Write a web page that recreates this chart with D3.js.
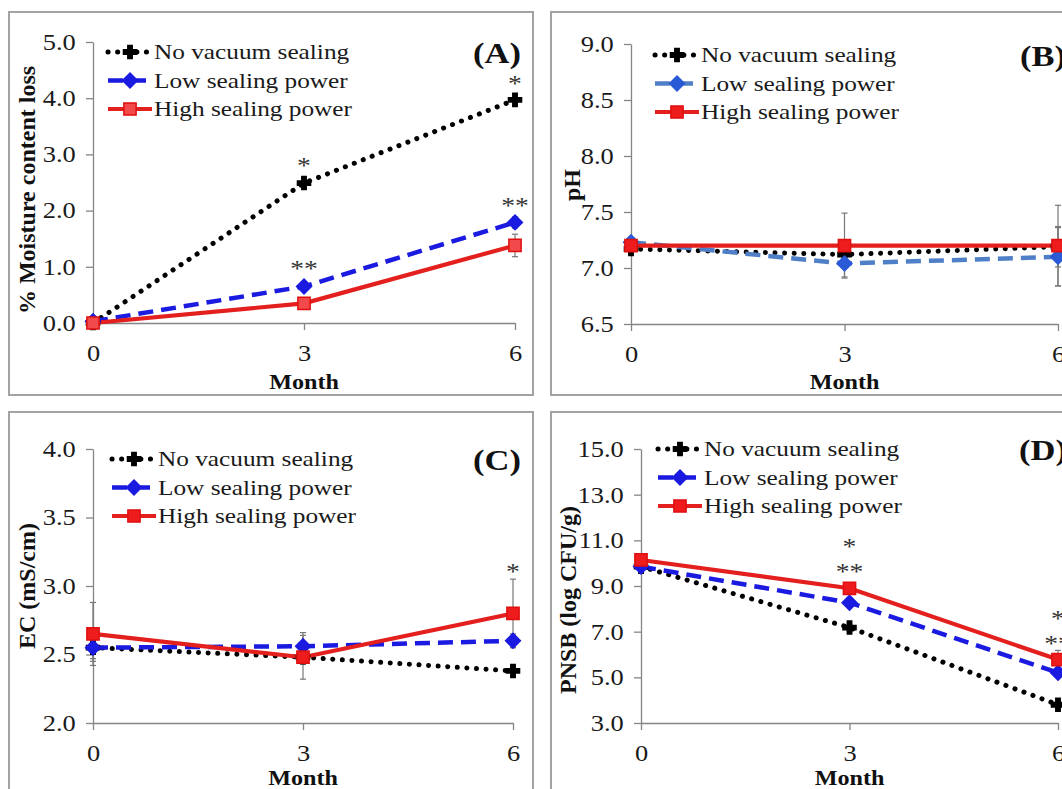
<!DOCTYPE html>
<html>
<head>
<meta charset="utf-8">
<script src="https://cdn.jsdelivr.net/npm/d3@7"></script>
<style>
body { margin: 0; background: #fff; }
svg { display: block; font-family: "Liberation Serif", "Times New Roman", serif; }
</style>
</head>
<body>
<svg id="fig" width="1062" height="789"></svg>
<script>
var months = [0, 3, 6]
var seriesNames = ["No vacuum sealing", "Low sealing power", "High sealing power"]

// (A) % moisture content loss
var moistTicks = [0, 1, 2, 3, 4, 5]
var moistNo = [0.00, 2.49, 3.97]
var moistLow = [0.03, 0.65, 1.79]
var moistHigh = [0.00, 0.35, 1.38]
var moistErrNo = [0.05, 0.08, 0.10]
var moistErrLow = [0.05, 0.06, 0.10]
var moistErrHigh = [0.03, 0.05, 0.20]
var moistStars = [[3, 2.86, "*"], [6, 4.32, "*"], [3, 1.03, "**"], [6, 2.15, "**"]]

// (B) pH
var phTicks = [6.5, 7.0, 7.5, 8.0, 8.5, 9.0]
var phNo = [7.17, 7.12, 7.19]
var phLow = [7.23, 7.04, 7.10]
var phHigh = [7.20, 7.20, 7.20]
var phErrNo = [0.04, 0.03, 0.18]
var phErrLow = [0.03, 0.12, 0.26]
var phErrHigh = [0.03, 0.29, 0.36]
var phStars = []

// (C) EC
var ecTicks = [2.0, 2.5, 3.0, 3.5, 4.0]
var ecNo = [2.55, 2.48, 2.38]
var ecLow = [2.55, 2.56, 2.60]
var ecHigh = [2.65, 2.48, 2.80]
var ecErrNo = [0.08, 0.05, 0.03]
var ecErrLow = [0.10, 0.10, 0.05]
var ecErrHigh = [0.23, 0.16, 0.25]
var ecStars = [[6, 3.13, "*"]]

// (D) PNSB
var pnsbTicks = [3, 5, 7, 9, 11, 13, 15]
var pnsbNo = [9.85, 7.18, 3.80]
var pnsbLow = [9.85, 8.27, 5.20]
var pnsbHigh = [10.14, 8.90, 5.78]
var pnsbErrNo = [0.10, 0.15, 0.15]
var pnsbErrLow = [0.10, 0.20, 0.20]
var pnsbErrHigh = [0.10, 0.15, 0.40]
var pnsbStars = [[3, 10.88, "*"], [3, 9.79, "**"], [6, 7.73, "*"], [6, 6.64, "**"]]

var SX = 1.15	// the figure is a bit wider than tall
var svg = d3.select("#fig")

var panels = [
	{ tag: "(A)", yTitle: "% Moisture content loss", ticks: moistTicks,
	  vals: [moistNo, moistLow, moistHigh], errs: [moistErrNo, moistErrLow, moistErrHigh], stars: moistStars,
	  frame: [9, 12, 524, 383], xr: [93, 515], yr: [323, 42], leg: [108, 52], tagPos: [473, 52],
	  titlePos: [27, 190], monthY: 382, lowLine: "#1a1ae0", lowMark: "#1a1ae0", highFill: "#f24a4a" },
	{ tag: "(B)", yTitle: "pH", ticks: phTicks,
	  vals: [phNo, phLow, phHigh], errs: [phErrNo, phErrLow, phErrHigh], stars: phStars,
	  frame: [551, 12, 540, 383], xr: [631, 1058], yr: [324, 44], leg: [655, 55], tagPos: [1020, 55],
	  titlePos: [572, 185], monthY: 382, lowLine: "#4f7fc6", lowMark: "#2a5ad6", highFill: "#ee1c1c" },
	{ tag: "(C)", yTitle: "EC (mS/cm)", ticks: ecTicks,
	  vals: [ecNo, ecLow, ecHigh], errs: [ecErrNo, ecErrLow, ecErrHigh], stars: ecStars,
	  frame: [9, 412, 524, 400], xr: [93, 513], yr: [723, 449], leg: [112, 459], tagPos: [473, 459],
	  titlePos: [27, 586], monthY: 778, lowLine: "#1a1ae0", lowMark: "#1a1ae0", highFill: "#ee1c1c" },
	{ tag: "(D)", yTitle: "PNSB (log CFU/g)", ticks: pnsbTicks,
	  vals: [pnsbNo, pnsbLow, pnsbHigh], errs: [pnsbErrNo, pnsbErrLow, pnsbErrHigh], stars: pnsbStars,
	  frame: [551, 412, 540, 400], xr: [641, 1058], yr: [723, 449], leg: [658, 449], tagPos: [1019, 449],
	  titlePos: [568, 600], monthY: 778, lowLine: "#1a1ae0", lowMark: "#1a1ae0", highFill: "#ee1c1c" }
]

function place(sel, x, y) {
	return sel.attr("transform", "translate(" + x + "," + y + ") scale(" + SX + ",1)")
}

function lineStyle(p, i) {
	if (i == 0) return { stroke: "#000", width: 5, dash: "0.1 9.5", cap: "round" }
	if (i == 1) return { stroke: p.lowLine, width: 4.5, dash: "15 8", cap: "butt" }
	return { stroke: "#e3201e", width: 4.2, dash: null, cap: "butt" }
}

function marker(p, i) {
	if (i == 0) return { path: d3.symbol(d3.symbolCross, 95)(), fill: "#000", stroke: "#000" }
	if (i == 1) return { path: d3.symbol(d3.symbolDiamond2, 140)(), fill: p.lowMark, stroke: p.lowMark }
	return { path: d3.symbol(d3.symbolSquare, 150)(), fill: p.highFill, stroke: "#e01010" }
}

function drawPanel(p) {
	var g = svg.append("g")

	g.append("rect")
		.attr("x", p.frame[0]).attr("y", p.frame[1])
		.attr("width", p.frame[2]).attr("height", p.frame[3])
		.attr("fill", "#fff").attr("stroke", "#a3a3a3").attr("stroke-width", 2)

	var x = d3.scaleLinear().domain([0, 6]).range(p.xr)
	var y = d3.scaleLinear().domain(d3.extent(p.ticks)).range(p.yr)

	var yAxis = g.append("g")
		.attr("transform", "translate(" + p.xr[0] + ",0)")
		.call(d3.axisLeft(y).tickValues(p.ticks).tickFormat(d3.format(".1f"))
			.tickSize(7).tickSizeOuter(0).tickPadding(8))
	var xAxis = g.append("g")
		.attr("transform", "translate(0," + p.yr[0] + ")")
		.call(d3.axisBottom(x).tickValues(months).tickFormat(d3.format("d"))
			.tickSize(7).tickSizeOuter(0).tickPadding(15))

	;[yAxis, xAxis].forEach(function(a) {
		a.attr("font-family", null).attr("font-size", null)
		a.selectAll("path, line").attr("stroke", "#858585").attr("stroke-width", 1.3)
		a.selectAll("text").attr("font-size", 23).attr("fill", "#1a1a1a")
			.attr("transform", "scale(" + SX + ",1)")
	})

	// error bars
	p.vals.forEach(function(vals, i) {
		vals.forEach(function(v, j) {
			var e = p.errs[i][j]
			var cx = x(months[j])
			var eg = g.append("g").attr("stroke", "#777").attr("stroke-width", 1.2)
			eg.append("line").attr("x1", cx).attr("x2", cx).attr("y1", y(v - e)).attr("y2", y(v + e))
			eg.append("line").attr("x1", cx - 3).attr("x2", cx + 3).attr("y1", y(v - e)).attr("y2", y(v - e))
			eg.append("line").attr("x1", cx - 3).attr("x2", cx + 3).attr("y1", y(v + e)).attr("y2", y(v + e))
		})
	})

	var line = d3.line()
		.x(function(d, j) { return x(months[j]) })
		.y(function(d) { return y(d) })

	p.vals.forEach(function(vals, i) {
		var s = lineStyle(p, i)
		g.append("path")
			.attr("d", line(vals))
			.attr("fill", "none")
			.attr("stroke", s.stroke)
			.attr("stroke-width", s.width)
			.attr("stroke-dasharray", s.dash)
			.attr("stroke-linecap", s.cap)
	})

	p.vals.forEach(function(vals, i) {
		var m = marker(p, i)
		g.selectAll(null).data(vals).enter()
			.append("path")
			.attr("d", m.path)
			.attr("transform", function(d, j) { return "translate(" + x(months[j]) + "," + y(d) + ")" })
			.attr("fill", m.fill)
			.attr("stroke", m.stroke)
			.attr("stroke-width", 1.5)
	})

	// significance marks
	p.stars.forEach(function(s) {
		place(g.append("text"), x(s[0]), y(s[1]) + 11)
			.attr("text-anchor", "middle")
			.attr("font-size", 24)
			.attr("fill", "#333")
			.text(s[2])
	})

	// legend
	seriesNames.forEach(function(name, i) {
		var ly = p.leg[1] + i * 28.5
		var lx = p.leg[0]
		var s = lineStyle(p, i)
		var m = marker(p, i)
		g.append("line")
			.attr("x1", lx).attr("x2", lx + 44).attr("y1", ly).attr("y2", ly)
			.attr("stroke", s.stroke).attr("stroke-width", s.width)
			.attr("stroke-dasharray", s.dash).attr("stroke-linecap", s.cap)
		g.append("path")
			.attr("d", m.path)
			.attr("transform", "translate(" + (lx + 22) + "," + ly + ")")
			.attr("fill", m.fill).attr("stroke", m.stroke).attr("stroke-width", 1.5)
		place(g.append("text"), lx + 46, ly)
			.attr("dy", "0.33em")
			.attr("font-size", 22)
			.attr("fill", "#1a1a1a")
			.text(name)
	})

	place(g.append("text"), p.tagPos[0], p.tagPos[1])
		.attr("dy", "0.35em")
		.attr("font-size", 30)
		.attr("font-weight", "bold")
		.attr("fill", "#111")
		.text(p.tag)

	g.append("text")
		.attr("transform", "translate(" + p.titlePos[0] + "," + p.titlePos[1] + ") rotate(-90)")
		.attr("text-anchor", "middle")
		.attr("dy", "0.35em")
		.attr("font-size", 24)
		.attr("font-weight", "bold")
		.attr("fill", "#111")
		.text(p.yTitle)

	place(g.append("text"), (p.xr[0] + p.xr[1]) / 2, p.monthY)
		.attr("text-anchor", "middle")
		.attr("dy", "0.35em")
		.attr("font-size", 21)
		.attr("font-weight", "bold")
		.attr("fill", "#111")
		.text("Month")
}

panels.forEach(drawPanel)
</script>
</body>
</html>
